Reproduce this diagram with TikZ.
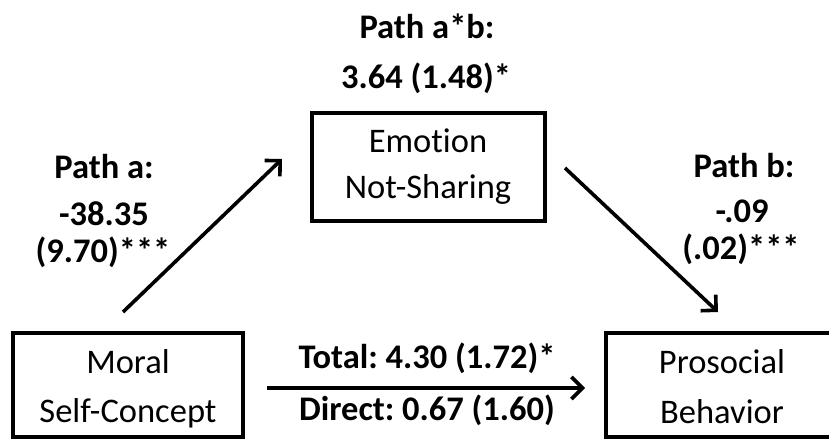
\documentclass[tikz,border=0pt]{standalone}
\usepackage{fontspec}
\setmainfont[Ligatures={NoCommon}]{Carlito}
\frenchspacing
\usetikzlibrary{arrows.meta}
\begin{document}
\begin{tikzpicture}[x=1pt,y=-1pt,
  box/.style={draw=black, line width=3.4pt, rectangle, inner sep=0pt},
  txt/.style={inner sep=0pt, anchor=base, font=\fontsize{34.5}{40}\selectfont},
  btxt/.style={txt, font=\fontsize{34.5}{40}\selectfont\bfseries},
  conn/.style={line width=3.6pt, -{Straight Barb[length=11pt,width=22pt]}}]
\useasboundingbox (0,0) rectangle (829,442);
\clip (0,0) rectangle (829,442);
% boxes
\node[box, minimum width=230pt, minimum height=104pt] (moral) at (128,385) {};
\node[box, minimum width=233pt, minimum height=108pt] (emotion) at (428.5,167) {};
\node[box, minimum width=232pt, minimum height=104pt] (prosocial) at (722,385) {};
% box texts
\node[txt] (moral1) at (128,373) {Moral};
\node[txt] (moral2) at (128,422) {Self-Concept};
\node[txt] (emo1) at (428,152) {Emotion};
\node[txt] (emo2) at (428,198) {Not-Sharing};
\node[txt] (pro1) at (722,373) {Prosocial};
\node[txt] (pro2) at (722,423) {Behavior};
% path labels
\node[btxt] (ab1) at (427,38) {Path a*b:};
\node[btxt] (ab2) at (426,88) {3.64 (1.48)*};
\node[btxt] (pa1) at (104,178) {Path a:};
\node[btxt] (pa2) at (104,225) {-38.35};
\node[btxt] (pa3) at (103,262) {(9.70)***};
\node[btxt] (pb1) at (744,177) {Path b:};
\node[btxt] (pb2) at (742,222) {-.09};
\node[btxt] (pb3) at (741,259) {(.02)***};
\node[btxt] (tot) at (427,368) {Total: 4.30 (1.72)*};
\node[btxt] (dir) at (427,420) {Direct: 0.67 (1.60)};
% connector end points
\coordinate (as) at (123,312);
\coordinate (ae) at (282,159);
\coordinate (bs) at (565,168);
\coordinate (be) at (718,312);
\coordinate (cs) at (267,388);
\coordinate (ce) at (585,388);
\draw[conn] (as) -- (ae);
\draw[conn] (bs) -- (be);
\draw[conn] (cs) -- (ce);
\end{tikzpicture}
\end{document}
